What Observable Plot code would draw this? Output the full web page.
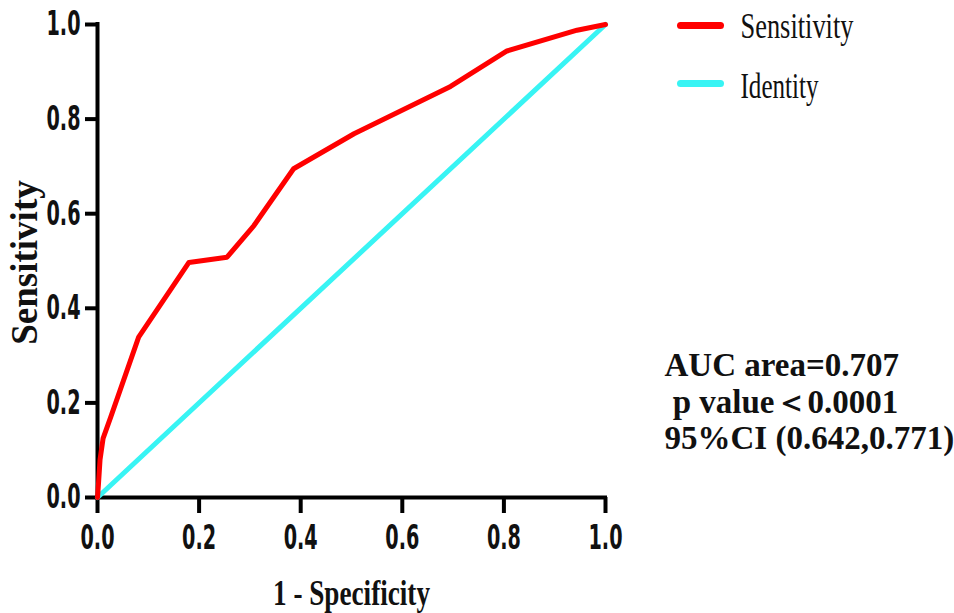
<!DOCTYPE html>
<html><head><meta charset="utf-8">
<script src="https://cdn.jsdelivr.net/npm/d3@7"></script>
<script src="https://cdn.jsdelivr.net/npm/@observablehq/plot@0.6"></script>
<style>body{margin:0;background:#fff}</style>
</head><body><div id="chart"></div>
<script>
// ---- data ----
const fpr = [0, 0.002, 0.005, 0.011, 0.026, 0.081, 0.18, 0.255, 0.308, 0.386, 0.505, 0.695, 0.806, 0.944, 1.0];
const sensitivity = [0, 0.03, 0.08, 0.125, 0.17, 0.339, 0.497, 0.508, 0.575, 0.695, 0.769, 0.869, 0.944, 0.988, 1.0];
const identityX = [0, 1];
const identityY = [0, 1];
const tickValues = [0, 0.2, 0.4, 0.6, 0.8, 1.0];
const legendLabels = ["Sensitivity", "Identity"];
const legendColors = ["#ff0000", "#38f4f4"];
const xTitle = "1 - Specificity";
const yTitle = "Sensitivity";
const annotationLines = ["AUC area=0.707", " p value＜0.0001", "95%CI (0.642,0.771)"];

// ---- layout ----
const W = 954, H = 613, mL = 97, mR = 349, mT = 24, mB = 116;
const plotW = W - mL - mR, plotH = H - mT - mB;
const X = px => (px - mL) / plotW;
const Y = py => (H - mB - py) / plotH;
const legendRowY = [25, 83];
const legendTextBase = [37, 97];
const annoBase = [375, 412, 448];

const sans = "'Liberation Sans Narrow', 'Arial Narrow', 'DejaVu Sans Condensed', sans-serif";
const serif = "'Liberation Serif', 'Times New Roman', serif";

const roc = fpr.map((x, i) => ({x, y: sensitivity[i]}));
const ident = identityX.map((x, i) => ({x, y: identityY[i]}));

const legendMarks = legendLabels.flatMap((label, i) => [
  Plot.link([label], {x1: X(680), x2: X(720), y1: Y(legendRowY[i]), y2: Y(legendRowY[i]),
    stroke: legendColors[i], strokeWidth: 7, strokeLinecap: "round"}),
  Plot.text([label], {x: X(740), y: Y(legendTextBase[i]), text: d => d, textAnchor: "start",
    lineAnchor: "bottom", fontFamily: serif, fontSize: 36, fill: "#111"})
]);

const annoMarks = annotationLines.map((line, i) =>
  Plot.text([line], {x: X(664), y: Y(annoBase[i]), text: d => d, textAnchor: "start",
    lineAnchor: "bottom", fontFamily: serif, fontWeight: "bold", fontSize: 33, fill: "#111"})
);

const chart = Plot.plot({
  width: W, height: H,
  marginLeft: mL, marginRight: mR, marginTop: mT, marginBottom: mB,
  x: {domain: [0, 1]},
  y: {domain: [0, 1]},
  style: {background: "#fff"},
  marks: [
    Plot.axisX({ticks: tickValues, tickFormat: d3.format(".1f"), tickSize: 16, tickPadding: 11,
      strokeWidth: 4, fontSize: 34, fontWeight: "bold", fontFamily: sans, fill: "#111", label: null}),
    Plot.axisY({ticks: tickValues, tickFormat: d3.format(".1f"), tickSize: 12, tickPadding: 5,
      strokeWidth: 4, fontSize: 34, fontWeight: "bold", fontFamily: sans, fill: "#111", label: null}),
    Plot.ruleY([0], {strokeWidth: 4, strokeLinecap: "square"}),
    Plot.ruleX([0], {strokeWidth: 4, strokeLinecap: "square"}),
    Plot.line(ident, {x: "x", y: "y", stroke: legendColors[1], strokeWidth: 5, strokeLinecap: "round"}),
    Plot.line(roc, {x: "x", y: "y", stroke: legendColors[0], strokeWidth: 5, strokeLinecap: "round", strokeLinejoin: "round"}),
    Plot.text([xTitle], {x: 0.5, y: Y(604), text: d => d, lineAnchor: "bottom",
      fontFamily: serif, fontWeight: "bold", fontSize: 36, fill: "#111"}),
    Plot.text([yTitle], {x: X(25), y: Y(262), text: d => d, rotate: -90, lineAnchor: "middle",
      fontFamily: serif, fontWeight: "bold", fontSize: 37, fill: "#111"}),
    ...legendMarks,
    ...annoMarks
  ]
});

document.getElementById("chart").appendChild(chart);

// condensed text widths as in the reference
const fitWidths = {"Sensitivity": 113, "Identity": 78, "1 - Specificity": 157};
d3.select(chart).selectAll("text").each(function() {
  const t = this.textContent;
  const tr = this.getAttribute("transform") || "";
  let w = null;
  if (fitWidths[t] && !tr.includes("rotate")) w = fitWidths[t];
  else if (/^\d\.\d$/.test(t)) w = 34;
  if (w) {
    this.setAttribute("textLength", w);
    this.setAttribute("lengthAdjust", "spacingAndGlyphs");
  }
});
</script>
</body></html>
